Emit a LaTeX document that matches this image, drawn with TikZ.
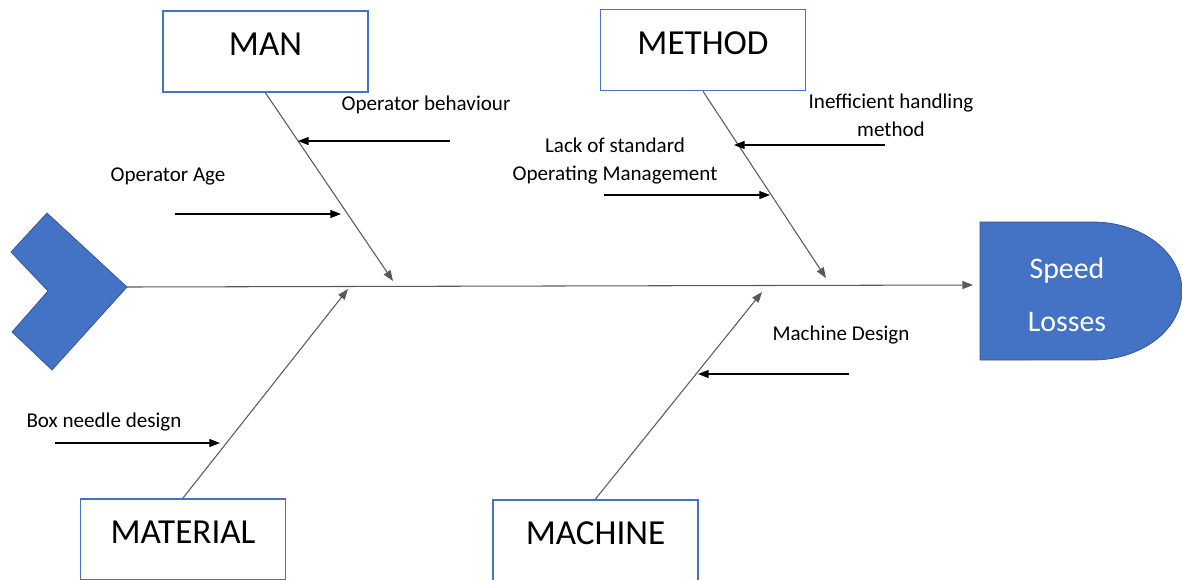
\documentclass[tikz,border=0pt]{standalone}
\usepackage{fontspec}
\setmainfont{Carlito}
\usetikzlibrary{arrows.meta}
\definecolor{fishblue}{RGB}{68,114,196}
\definecolor{fishedge}{RGB}{47,82,143}
\def\tip{{Triangle[length=6pt,width=4.5pt]}}

\begin{document}
\begin{tikzpicture}[x=0.02cm,y=-0.02cm,
  catbox/.style={draw=fishblue,line width=1pt,minimum width=4.1cm,minimum height=1.62cm,
    font=\fontsize{20}{24}\selectfont,text height=13pt,text depth=8pt},
  cause/.style={font=\fontsize{12}{16}\selectfont,align=center},
  bone/.style={draw=black!65,line width=0.6pt,-\tip},
  arr/.style={line width=0.6pt,-\tip}]
\useasboundingbox (0,0) rectangle (1182,579);

% spine ends and bone ends
\coordinate (tail) at (127,287);
\coordinate (spineend) at (973,285);
\coordinate (manend) at (393,281);
\coordinate (methodend) at (826,278);
\coordinate (materialend) at (348,289);
\coordinate (machineend) at (762,292);

% small cause arrows
\coordinate (ob1) at (450,141); \coordinate (ob2) at (298,141);
\coordinate (oa1) at (175,214); \coordinate (oa2) at (341,214);
\coordinate (ih1) at (885,145); \coordinate (ih2) at (734,145);
\coordinate (ls1) at (604,195); \coordinate (ls2) at (770,195);
\coordinate (md1) at (849,374); \coordinate (md2) at (698,374);
\coordinate (bn1) at (55,443);  \coordinate (bn2) at (220,443);

% tail and head
\filldraw[fill=fishblue,draw=fishedge] (47,213) -- (tail) -- (52,370) -- (12,332) -- (48,291) -- (11,252) -- cycle;
\filldraw[fill=fishblue,draw=fishedge] (980,222) -- (1093,222)
  arc[start angle=90,end angle=-90,x radius=1.78cm,y radius=1.38cm] -- (980,360) -- cycle;
\node[text=white,font=\fontsize{17}{20}\selectfont,align=center] (head) at (1067,295) {Speed\\[10pt]Losses};

% category boxes
\node[catbox] (man) at (265.5,51.5) {MAN};
\node[catbox] (method) at (703,50) {METHOD};
\node[catbox,anchor=north] (material) at (183,498) {MATERIAL};
\node[catbox,anchor=north] (machine) at (595.5,499) {MACHINE};

\draw[bone] (tail) -- (spineend);
\draw[bone] (man.south) -- (manend);
\draw[bone] (method.south) -- (methodend);
\draw[bone] (material.north) -- (materialend);
\draw[bone] (machine.north) -- (machineend);

\foreach \a/\b in {ob1/ob2, oa1/oa2, ih1/ih2, ls1/ls2, md1/md2, bn1/bn2}{
	\draw[arr] (\a) -- (\b);
}

\node[cause] (obtext) at (426,105) {Operator behaviour};
\node[cause] (oatext) at (168,176) {Operator Age};
\node[cause] (ihtext) at (891,115) {Inefficient handling\\method};
\node[cause] (lstext) at (615,161) {Lack of standard\\Operating Management};
\node[cause] (mdtext) at (841,335) {Machine Design};
\node[cause] (bntext) at (104,422) {Box needle design};
\end{tikzpicture}
\end{document}
